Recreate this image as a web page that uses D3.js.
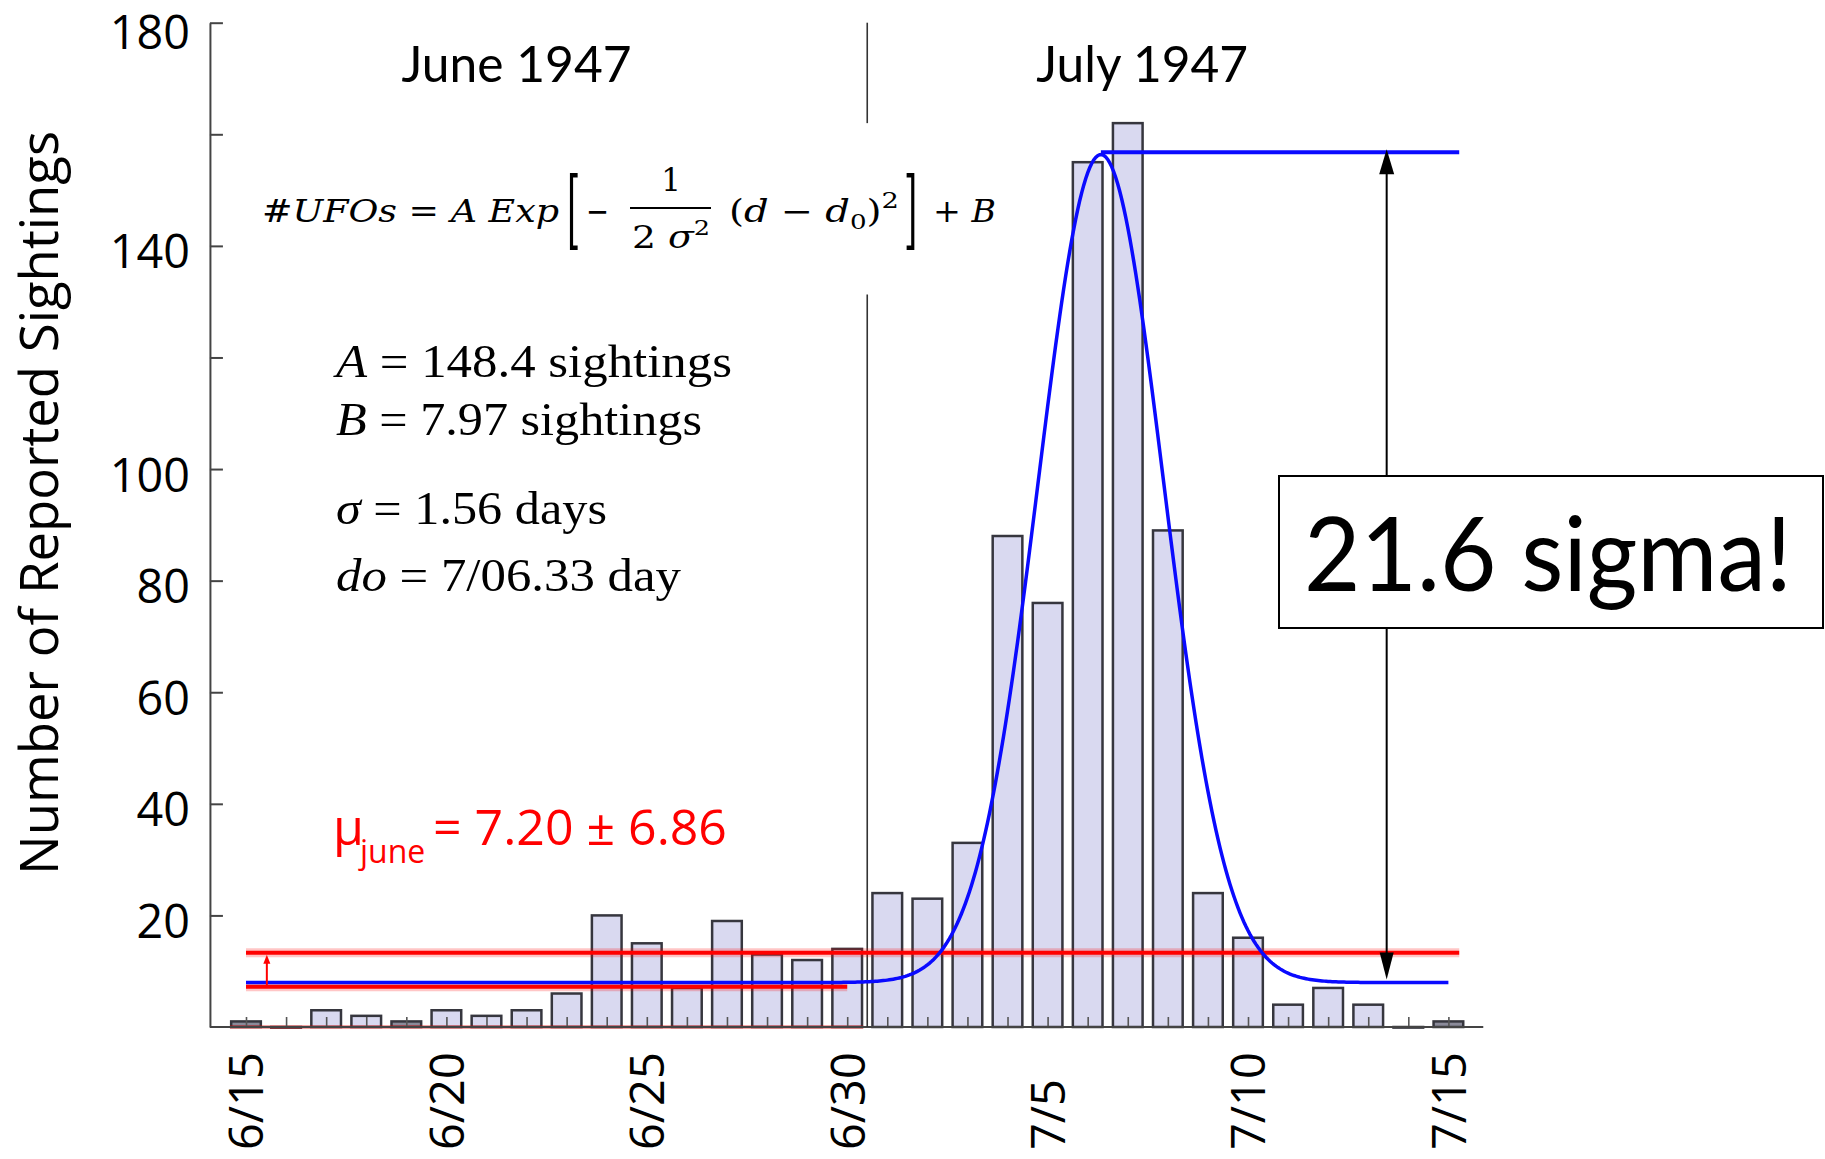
<!DOCTYPE html>
<html><head><meta charset="utf-8">
<script src="https://cdn.jsdelivr.net/npm/d3@7"></script>
<style>body{margin:0;background:#fff} svg{display:block}</style>
</head><body>
<svg id="chart" width="1825" height="1159"></svg>
<script>
// ---------- data ----------
const days = ["6/15","6/16","6/17","6/18","6/19","6/20","6/21","6/22","6/23","6/24","6/25","6/26","6/27","6/28","6/29","6/30",
              "7/1","7/2","7/3","7/4","7/5","7/6","7/7","7/8","7/9","7/10","7/11","7/12","7/13","7/14","7/15"];
const sightings = [1,0,3,2,1,3,2,3,6,20,15,7,19,13,12,14,
                   24,23,33,88,76,155,162,89,24,16,4,7,4,0,1];
const xTickLabels = ["6/15","6/20","6/25","6/30","7/5","7/10","7/15"];
const yTickValues = [20,40,60,80,100,120,140,160,180];
const yTickLabels = ["20","40","60","80","100","","140","","180"];
const monthLabels = ["June 1947","July 1947"];
// fit parameters (as printed on the chart)
const fitA = 148.4, fitB = 7.97, fitSigma = 1.56, fitD0 = 21.33; // d0 = 7/06.33 (day index from 6/15)
const juneMean = 7.20;      // lower red line
const juneUpper = 13.3;     // upper red line (as drawn)
const peakLevel = 156.8;    // blue horizontal line at the peak
const paramLines = [
  [{t:"A",i:true},{t:" = 148.4 sightings"}],
  [{t:"B",i:true},{t:" = 7.97 sightings"}],
  [{t:"σ",i:true},{t:" = 1.56 days"}],
  [{t:"do",i:true},{t:" = 7/06.33 day"}]
];

// ---------- scales ----------
const svg = d3.select("#chart");
const x = d3.scaleLinear().domain([0,30]).range([246,1448.4]);
const xb = d3.scaleBand().domain(days).range([x(-0.5), x(30.5)]).paddingInner(0.2).paddingOuter(0.1);
const y = d3.scaleLinear().domain([0,180]).range([1027,22.7]);
const bw = xb.bandwidth();
const xAxisStart = -0.9, xAxisEnd = 30.87, lineEnd = 30.27;

// ---------- bars ----------
svg.append("g").selectAll("rect").data(sightings).join("rect")
  .attr("x",(d,i)=>xb(days[i])+1.2)
  .attr("width",bw-2.4)
  .attr("y",d=>y(d))
  .attr("height",d=>Math.max(y(0)-y(d),0.6))
  .attr("fill",d=>d<=1 ? "#8a8a99" : "#d9d9f0")
  .attr("stroke","#36363e")
  .attr("stroke-width",2.5);

// red baseline under the June bars
svg.append("line")
  .attr("x1",xb("6/15")).attr("x2",xb("6/30")+bw)
  .attr("y1",y(0)).attr("y2",y(0))
  .attr("stroke","#e00000").attr("stroke-width",3).attr("opacity",0.7);

// ---------- x axis ----------
const gx = svg.append("g").attr("transform",`translate(0,${y(0)})`)
  .call(d3.axisBottom(x).tickValues(d3.range(days.length)).tickSize(-10)
        .tickFormat(i => xTickLabels.includes(days[i]) ? days[i] : ""));
gx.select(".domain").remove();
gx.selectAll(".tick line").attr("stroke","#555").attr("stroke-width",1.6);
gx.selectAll(".tick text")
  .attr("transform","rotate(-90)")
  .attr("x",-123).attr("y",16.8).attr("dy",0)
  .attr("text-anchor","start")
  .attr("fill","#000")
  .style("font-family","'Open Sans'").style("font-size","47px");
svg.append("line")
  .attr("x1",x(xAxisStart)).attr("x2",x(xAxisEnd))
  .attr("y1",y(0)).attr("y2",y(0))
  .attr("stroke","#444").attr("stroke-width",2);

// ---------- y axis ----------
const gy = svg.append("g").attr("transform",`translate(${x(xAxisStart)},0)`)
  .call(d3.axisLeft(y).tickValues(yTickValues).tickSize(-13).tickSizeOuter(0).tickPadding(20)
        .tickFormat((d,i)=>yTickLabels[i]));
gy.select(".domain").attr("stroke","#444").attr("stroke-width",2);
gy.selectAll(".tick line").attr("stroke","#444").attr("stroke-width",2);
gy.selectAll(".tick text").attr("dy",d => d===180 ? "0.56em" : "0.47em").attr("fill","#000")
  .style("font-family","'Open Sans'").style("font-size","46.7px");

// axis title
svg.append("text")
  .attr("transform","translate(58,503) rotate(-90)")
  .attr("text-anchor","middle")
  .attr("textLength",744).attr("lengthAdjust","spacingAndGlyphs")
  .style("font-family","'Open Sans'").style("font-size","53px")
  .text("Number of Reported Sightings");

// ---------- month separator ----------
const sepX = (xb("6/30")+bw + xb("7/1"))/2;
svg.append("line").attr("x1",sepX).attr("x2",sepX).attr("y1",y(180)).attr("y2",y(162))
  .attr("stroke","#333").attr("stroke-width",1.6);
svg.append("line").attr("x1",sepX).attr("x2",sepX).attr("y1",y(131.3)).attr("y2",y(0))
  .attr("stroke","#333").attr("stroke-width",1.6);

// month labels
svg.append("text").attr("x",x(6.75)).attr("y",82).attr("text-anchor","middle")
  .attr("textLength",230).attr("lengthAdjust","spacingAndGlyphs")
  .style("font-family","Lato").style("font-size","51px").text(monthLabels[0]);
svg.append("text").attr("x",x(22.36)).attr("y",82).attr("text-anchor","middle")
  .attr("textLength",212).attr("lengthAdjust","spacingAndGlyphs")
  .style("font-family","Lato").style("font-size","51px").text(monthLabels[1]);

// ---------- reference lines ----------
function redLine(d0,d1,v){
  svg.append("line").attr("x1",x(d0)).attr("x2",x(d1)).attr("y1",y(v)).attr("y2",y(v))
    .attr("stroke","#ff0000").attr("stroke-width",9).attr("opacity",0.22);
  svg.append("line").attr("x1",x(d0)).attr("x2",x(d1)).attr("y1",y(v)).attr("y2",y(v))
    .attr("stroke","#ff0000").attr("stroke-width",4);
}
redLine(0,15,juneMean);
redLine(0,lineEnd,juneUpper);

// fitted gaussian
const gauss = d => fitA*Math.exp(-((d-fitD0)**2)/(2*fitSigma*fitSigma)) + fitB;
const curveDays = d3.range(0,30.0001,0.05);
svg.append("path").datum(curveDays)
  .attr("d",d3.line().x(d=>x(d)).y(d=>y(gauss(d))))
  .attr("fill","none").attr("stroke","#0a0aff").attr("stroke-width",3.5);
svg.append("line").attr("x1",x(fitD0)).attr("x2",x(lineEnd)).attr("y1",y(peakLevel)).attr("y2",y(peakLevel))
  .attr("stroke","#0a0aff").attr("stroke-width",4);

// small red arrow
const rx = x(0.52);
svg.append("line").attr("x1",rx).attr("x2",rx).attr("y1",y(juneMean)).attr("y2",y(juneUpper)+8)
  .attr("stroke","#ff0000").attr("stroke-width",2);
svg.append("path")
  .attr("d",`M${rx},${y(juneUpper)+2}L${rx-3.5},${y(juneUpper)+11}L${rx+3.5},${y(juneUpper)+11}Z`)
  .attr("fill","#ff0000");

// big double arrow
const ax = x(28.46);
svg.append("line").attr("x1",ax).attr("x2",ax).attr("y1",y(peakLevel)+20).attr("y2",y(fitB)-25)
  .attr("stroke","#000").attr("stroke-width",2);
svg.append("path")
  .attr("d",`M${ax},${y(peakLevel)-3}L${ax-7.5},${y(peakLevel)+22}L${ax+7.5},${y(peakLevel)+22}Z`)
  .attr("fill","#000");
svg.append("path")
  .attr("d",`M${ax},${y(fitB)-3}L${ax-7},${y(fitB)-30}L${ax+7},${y(fitB)-30}Z`)
  .attr("fill","#000");

// box "21.6 sigma!"
svg.append("rect").attr("x",1279).attr("y",476).attr("width",544).attr("height",152)
  .attr("fill","#fff").attr("stroke","#000").attr("stroke-width",2);
svg.append("text").attr("x",1304).attr("y",591)
  .attr("textLength",488).attr("lengthAdjust","spacingAndGlyphs")
  .style("font-family","Lato").style("font-size","103px").text("21.6 sigma!");

// ---------- formula ----------
const serif = "'DejaVu Serif'";
const f1 = svg.append("text").attr("x",262).attr("y",222)
  .attr("textLength",297).attr("lengthAdjust","spacingAndGlyphs")
  .style("font-family",serif).style("font-size","31px");
f1.append("tspan").style("font-style","italic").text("#UFOs");
f1.append("tspan").text(" = ");
f1.append("tspan").style("font-style","italic").text("A Exp");
svg.append("text").attr("transform","translate(567,238.5) scale(1,2.55)")
  .style("font-family",serif).style("font-size","34px").style("font-weight","300").text("[");
svg.append("text").attr("x",586).attr("y",223).attr("textLength",23).attr("lengthAdjust","spacingAndGlyphs")
  .style("font-family",serif).style("font-size","34px").text("−");
svg.append("text").attr("x",671).attr("y",191).attr("text-anchor","middle")
  .style("font-family",serif).style("font-size","31px").text("1");
svg.append("line").attr("x1",630).attr("x2",711).attr("y1",208).attr("y2",208)
  .attr("stroke","#000").attr("stroke-width",1.8);
const den = svg.append("text").attr("x",632).attr("y",248)
  .attr("textLength",78).attr("lengthAdjust","spacingAndGlyphs")
  .style("font-family",serif).style("font-size","31px");
den.append("tspan").text("2 ");
den.append("tspan").style("font-style","italic").text("σ");
den.append("tspan").attr("dy",-13).style("font-size","21px").text("2");
const f2 = svg.append("text").attr("x",729).attr("y",222)
  .attr("textLength",170).attr("lengthAdjust","spacingAndGlyphs")
  .style("font-family",serif).style("font-size","31px");
f2.append("tspan").text("(");
f2.append("tspan").style("font-style","italic").text("d");
f2.append("tspan").text(" − ");
f2.append("tspan").style("font-style","italic").text("d");
f2.append("tspan").attr("dy",7).style("font-size","21px").text("0");
f2.append("tspan").attr("dy",-7).text(")");
f2.append("tspan").attr("dy",-14).style("font-size","22px").text("2");
svg.append("text").attr("transform","translate(904,238.5) scale(1,2.55)")
  .style("font-family",serif).style("font-size","34px").style("font-weight","300").text("]");
const f3 = svg.append("text").attr("x",933).attr("y",222)
  .attr("textLength",63).attr("lengthAdjust","spacingAndGlyphs")
  .style("font-family",serif).style("font-size","31px");
f3.append("tspan").text("+ ");
f3.append("tspan").style("font-style","italic").text("B");

// ---------- parameter text ----------
const paramY = [377,435,524,591];
const paramW = [396,366,271,345];
paramLines.forEach((parts,k)=>{
  const t = svg.append("text").attr("x",336).attr("y",paramY[k])
    .attr("textLength",paramW[k]).attr("lengthAdjust","spacingAndGlyphs")
    .style("font-family","'Liberation Serif'").style("font-size","46px");
  parts.forEach(p=>t.append("tspan").style("font-style",p.i?"italic":"normal").text(p.t));
});

// ---------- mu label ----------
const mu = svg.append("text").attr("y",845).attr("fill","#ff0000")
  .style("font-family","'Open Sans'").style("font-size","50px");
mu.append("tspan").attr("x",333).text("μ");
mu.append("tspan").attr("x",360).attr("dy",18).style("font-size","32px").text("june");
mu.append("tspan").attr("x",433).attr("dy",-18).text("= 7.20 ± 6.86");
</script>
</body></html>
